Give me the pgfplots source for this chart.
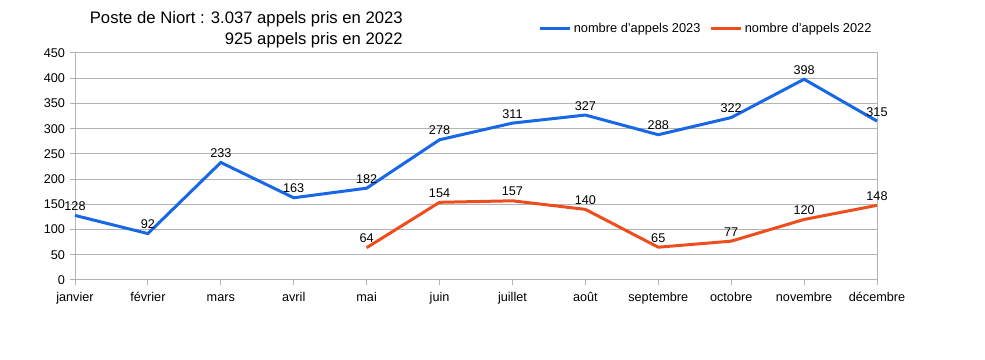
\documentclass[border=0pt]{standalone}
\usepackage{pgfplots}
\pgfplotsset{compat=1.18}
\usepackage{fontspec}
\setmainfont{Liberation Sans}
\definecolor{cblue}{RGB}{24,104,230}
\definecolor{corange}{RGB}{238,78,30}
\definecolor{cgrid}{RGB}{179,179,179}
\begin{document}
\begin{tikzpicture}[x=0.75pt,y=0.75pt]
\path[use as bounding box] (0,0) rectangle (985,360);
\node[anchor=base east, font=\fontsize{12.5}{14}\selectfont, inner sep=0pt] at (403,336) {Poste de Niort : 3.037 appels pris en 2023};
\node[anchor=base east, font=\fontsize{12.5}{14}\selectfont, inner sep=0pt] at (403,315) {925 appels pris en 2022};
\begin{axis}[at={(56.25pt,60pt)}, anchor=south west, scale only axis,
  width=601.5pt, height=170.25pt,
  xmin=0, xmax=11, ymin=0, ymax=450,
  xtick={0,...,11},
  xticklabels={janvier,février,mars,avril,mai,juin,juillet,août,septembre,octobre,novembre,décembre},
  xticklabel style={text height=1.6ex, text depth=0.3ex},
  ytick={0,50,...,450},
  ymajorgrids, major grid style={cgrid, line width=0.75pt},
  axis line style={cgrid, line width=0.75pt},
  tick style={cgrid, line width=0.75pt}, tick align=outside, major tick length=4pt,
  xtick pos=bottom, ytick pos=left,
  tick label style={font=\fontsize{9.5}{11}\selectfont, black},
  /pgf/number format/assume math mode=true,
  nodes near coords,
  every node near coord/.append style={font=\fontsize{9.5}{11}\selectfont, black, anchor=south, inner sep=2.5pt},
  clip=false,
  legend columns=2,
  legend style={at={(0.573,1.106)}, anchor=west, draw=none, fill=none, font=\fontsize{9.6}{11}\selectfont,
    /tikz/every even column/.append style={column sep=5pt}},
  legend image code/.code={\draw[#1, line width=2.25pt] (0pt,0pt) -- (22pt,0pt);},
]
\addplot[cblue, line width=2.25pt, mark=none] coordinates {
(0,128) (1,92) (2,233) (3,163) (4,182) (5,278) (6,311) (7,327) (8,288) (9,322) (10,398) (11,315)};
\addlegendentry{nombre d’appels 2023}
\addplot[corange, line width=2.25pt, mark=none] coordinates {
(4,64) (5,154) (6,157) (7,140) (8,65) (9,77) (10,120) (11,148)};
\addlegendentry{nombre d’appels 2022}
\end{axis}
\end{tikzpicture}
\end{document}
